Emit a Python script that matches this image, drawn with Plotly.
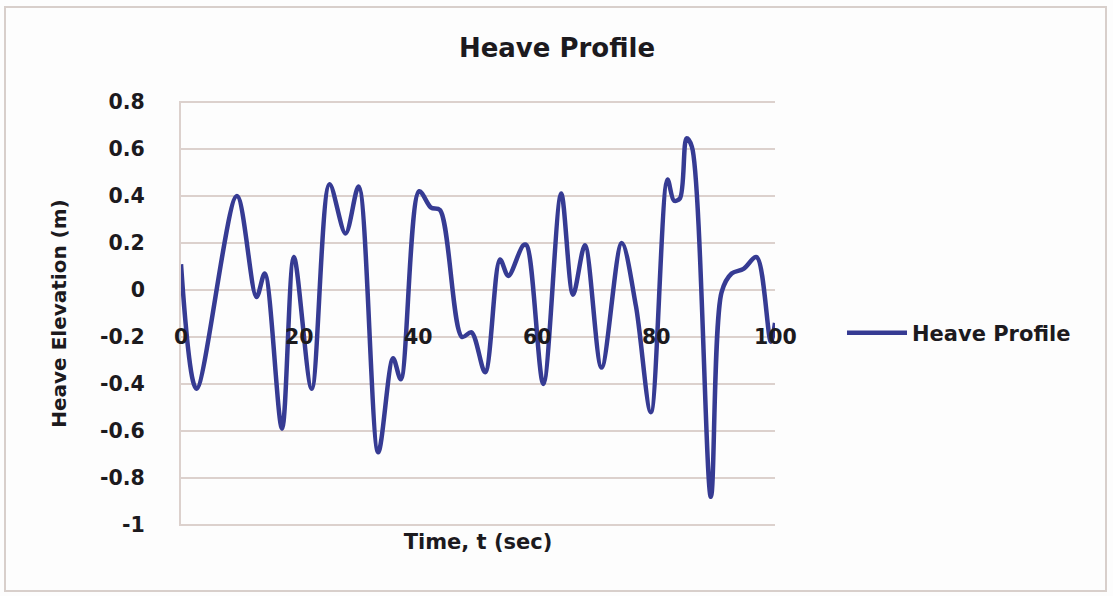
import plotly.graph_objects as go

# Heave time history (s, m)
time_s = [0, 2.6, 9.4, 12.7, 14.1, 17.0, 19.0, 22.0, 25.0, 27.7, 29.9, 33.2,
          35.7, 37.0, 40.1, 42.1, 43.6, 47.3, 48.9, 51.2, 53.7, 55.1, 57.6,
          58.2, 61.0, 64.0, 66.0, 68.0, 70.8, 74.2, 76.6, 79.1, 81.9, 83.0,
          84.0, 85.1, 86.0, 89.2, 91.0, 92.7, 94.7, 96.9, 99.3, 100]
heave_m = [0.11, -0.42, 0.40, -0.03, 0.07, -0.59, 0.14, -0.42, 0.45, 0.24,
           0.44, -0.69, -0.29, -0.38, 0.42, 0.35, 0.34, -0.20, -0.18, -0.35,
           0.13, 0.06, 0.19, 0.19, -0.40, 0.41, -0.02, 0.19, -0.33, 0.20,
           -0.07, -0.52, 0.47, 0.38, 0.39, 0.645, 0.61, -0.88, -0.01, 0.07,
           0.09, 0.14, -0.22, -0.14]

x_ticks = [0, 20, 40, 60, 80, 100]
y_ticks = [0.8, 0.6, 0.4, 0.2, 0, -0.2, -0.4, -0.6, -0.8, -1]
x_label_level = -0.2

W, H = 1113, 596
L, R, T, B = 181, 775, 101, 526

FONT = "DejaVu Sans"
TXT = "#1c1a1e"
GRID = "#dcd1cd"
LINE = "#363b93"

fig = go.Figure()
fig.add_trace(go.Scatter(
    x=time_s, y=heave_m, mode="lines", name="Heave Profile",
    line=dict(color=LINE, width=4.5, shape="spline", smoothing=0.9),
))

fig.update_layout(
    width=W, height=H,
    margin=dict(l=L, r=W - R, t=T, b=H - B),
    paper_bgcolor="#fdfdfd", plot_bgcolor="#fdfdfd",
    font=dict(family=FONT, color=TXT),
    title=dict(text="Heave Profile", x=557 / W,
               xanchor="center", y=1 - 48 / H, yanchor="middle",
               font=dict(size=26, family=FONT, color=TXT, weight="bold")),
    showlegend=True,
    legend=dict(x=(842 - L) / (R - L), xanchor="left",
                y=(B - 333) / (B - T), yanchor="middle",
                font=dict(size=21, family=FONT, color=TXT, weight="bold"),
                bgcolor="rgba(0,0,0,0)", itemwidth=60),
)

fig.update_xaxes(
    range=[0, 100], showticklabels=False, showgrid=False, zeroline=False,
    showline=False, ticks="",
    title=dict(text="Time, t (sec)", standoff=8,
               font=dict(size=21, family=FONT, color=TXT, weight="bold")),
)
fig.update_yaxes(
    range=[-1.004, 0.804], tickvals=y_ticks, ticktext=[f"{v:g}" for v in y_ticks],
    showgrid=True, gridcolor=GRID, gridwidth=2, zeroline=False,
    showline=True, linecolor=GRID, linewidth=2, ticks="",
    ticklabelstandoff=30,
    tickfont=dict(size=20.5, family=FONT, color=TXT, weight="bold"),
    title=dict(text="Heave Elevation (m)", standoff=28,
               font=dict(size=20, family=FONT, color=TXT, weight="bold")),
)

# gridlines at the two ends of the vertical scale
for v in (y_ticks[0], y_ticks[-1]):
    fig.add_shape(type="line", xref="paper", yref="y", x0=0, x1=1, y0=v, y1=v,
                  line=dict(color=GRID, width=2), layer="below")

# x-axis labels sit on the -0.2 level of the vertical scale
for v in x_ticks:
    fig.add_annotation(x=v, y=x_label_level, xref="x", yref="y", text=f"{v}",
                       showarrow=False, xanchor="center", yanchor="middle",
                       font=dict(size=20.5, family=FONT, color=TXT, weight="bold"))

# outer chart frame
fig.add_shape(type="rect", xref="paper", yref="paper",
              x0=(5 - L) / (R - L), x1=(1106 - L) / (R - L),
              y0=(B - 591) / (B - T), y1=(B - 7) / (B - T),
              line=dict(color="#d8cfcb", width=2), fillcolor="rgba(0,0,0,0)",
              layer="below")

fig.write_html("out.html")
